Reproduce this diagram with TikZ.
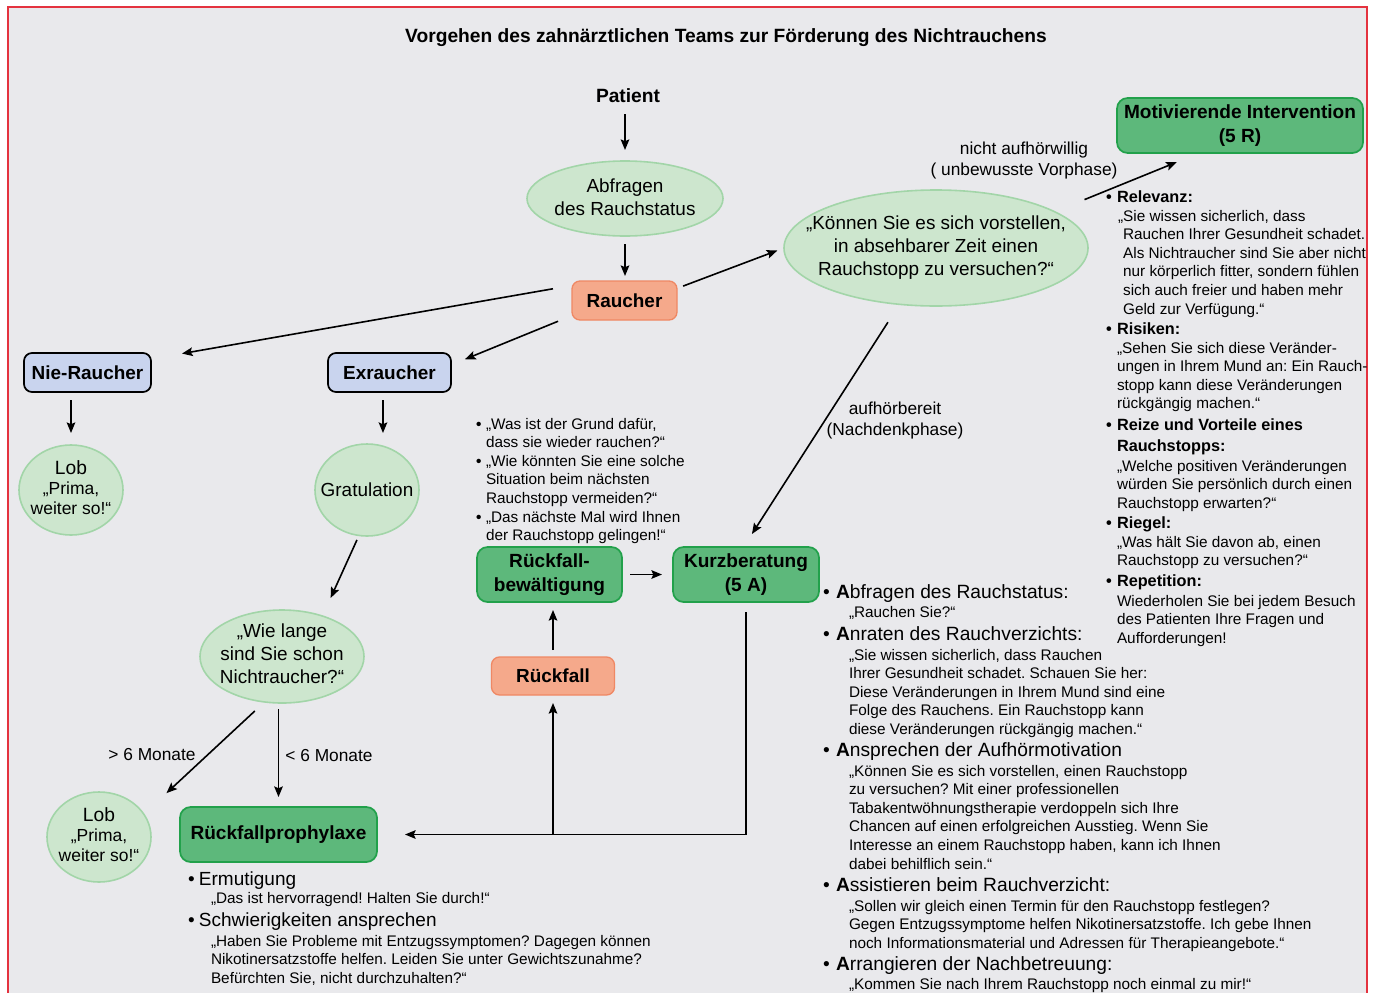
\documentclass[tikz,border=0pt]{standalone}
\usepackage{fontspec}
\setmainfont{Liberation Sans}
\usetikzlibrary{arrows.meta,shapes.geometric,calc}
\definecolor{bg}{HTML}{E9E9EC}
\definecolor{frame}{HTML}{E4333F}
\definecolor{lgfill}{HTML}{CDE6CE}
\definecolor{lgdraw}{HTML}{A2D5A8}
\definecolor{gfill}{HTML}{5DB87B}
\definecolor{gdraw}{HTML}{22A14B}
\definecolor{sfill}{HTML}{F5A98B}
\definecolor{sdraw}{HTML}{EF8864}
\definecolor{bfill}{HTML}{C9D4EE}
\newcommand\mylines[1]{\begin{tabular}[t]{@{}l@{}}#1\end{tabular}}
\newcommand\bul[1]{\makebox[#1][l]{\textbf{•}}}
\begin{document}
\frenchspacing
\begin{tikzpicture}[x=0.75pt,y=-0.75pt,
  every node/.style={inner sep=0pt, outer sep=0pt},
  conn/.style={line width=1.2pt, draw=black},
  arr/.style={conn, -{Stealth[length=8pt,width=6.5pt,inset=1.5pt]}},
  greenell/.style={ellipse, draw=lgdraw, fill=lgfill, line width=1.2pt},
  elltxt/.style={align=center, font=\fontsize{14.2}{17.25}\selectfont},
  lobtxt/.style={align=center, font=\fontsize{13.1}{15}\selectfont},
  bluebox/.style={rectangle, rounded corners=6pt, draw=black, fill=bfill, line width=1.3pt, font=\bfseries\fontsize{14.2}{17}\selectfont, minimum height=29.25pt},
  greenbox/.style={rectangle, rounded corners=8pt, draw=gdraw, fill=gfill, line width=1.3pt, align=center, font=\bfseries\fontsize{14.3}{17.5}\selectfont, minimum height=41.25pt},
  salmonbox/.style={rectangle, rounded corners=6pt, draw=sdraw, fill=sfill, line width=1pt, font=\bfseries\fontsize{14.2}{17}\selectfont, minimum height=28.5pt},
  bodytxt/.style={anchor=base west, font=\fontsize{11.5}{13.95}\selectfont},
  rhead/.style={anchor=base west, font=\bfseries\fontsize{12.2}{15.75}\selectfont},
  khead/.style={anchor=base west, font=\fontsize{14.4}{16}\selectfont},
  lhead/.style={anchor=base west, font=\fontsize{14.25}{17}\selectfont},
  lbl/.style={font=\fontsize{13}{15.75}\selectfont, align=center}
]
\useasboundingbox (0,0) rectangle (1373,992);
\fill[white] (0,0) rectangle (1373,992);
\fill[bg] (8,7) rectangle (1367,995);
\draw[frame, line width=1.5pt] (8,1000) -- (8,7) -- (1367,7) -- (1367,1000);

% title
\node[font=\bfseries\fontsize{14.4}{17}\selectfont] (title) at (726,38) {Vorgehen des zahnärztlichen Teams zur Förderung des Nichtrauchens};

% nodes
\node[font=\bfseries\fontsize{14.4}{17}\selectfont] (patient) at (628,96) {Patient};
\node[greenell, minimum width=147pt, minimum height=56.25pt] (abfr) at (625,198.5) {};
\node[elltxt] (abfrt) at ([yshift=0.75pt]abfr) {Abfragen\\des Rauchstatus};
\node[salmonbox, minimum width=78.75pt, minimum height=29.25pt] (raucher) at (624.5,300.5) {Raucher};
\node[bluebox, minimum width=95.25pt] (nie) at (87.5,372.5) {Nie-Raucher};
\node[bluebox, minimum width=92.25pt] (ex) at (389.5,372.5) {Exraucher};
\node[greenell, minimum width=78pt, minimum height=67.5pt] (lob1) at (71,490) {};
\node[lobtxt] (lob1t) at ([yshift=2pt]lob1) {{\fontsize{14.4}{15}\selectfont Lob}\\„Prima,\\weiter so!“};
\node[greenell, minimum width=78pt, minimum height=69pt] (grat) at (367,490) {};
\node[elltxt] (gratt) at (grat) {Gratulation};
\node[greenell, minimum width=123pt, minimum height=69.75pt] (wie) at (282,656.5) {};
\node[elltxt] (wiet) at ([yshift=2.25pt]wie) {„Wie lange\\sind Sie schon\\Nichtraucher?“};
\node[greenell, minimum width=78pt, minimum height=67.5pt] (lob2) at (99,837) {};
\node[lobtxt] (lob2t) at ([yshift=2pt]lob2) {{\fontsize{14.4}{15}\selectfont Lob}\\„Prima,\\weiter so!“};
\node[greenbox, minimum width=147.75pt] (prophy) at (278.5,834.5) {Rückfallprophylaxe};
\node[greenell, minimum width=228pt, minimum height=87pt] (koennen) at (936,248) {};
\node[elltxt] (koennent) at (koennen) {„Können Sie es sich vorstellen,\\in absehbarer Zeit einen\\Rauchstopp zu versuchen?“};
\node[greenbox, minimum width=184.5pt] (motiv) at (1240,125.5) {Motivierende Intervention\\(5 R)};
\node[greenbox, minimum width=109.5pt] (kurz) at (746,574.5) {Kurzberatung\\(5 A)};
\node[greenbox, minimum width=108.75pt] (rbew) at (549.5,574.5) {Rückfall-\\bewältigung};
\node[salmonbox, minimum width=92.25pt] (rueck) at (553,676) {Rückfall};

% connector labels
\node[lbl] (nah) at (1024,160.5) {nicht aufhörwillig\\( unbewusste Vorphase)};
\node[lbl] (ahb) at (895,420.5) {aufhörbereit\\(Nachdenkphase)};
\node[lbl] (gt6) at (152,755) {> 6 Monate};
\node[lbl] (lt6) at (329,756) {< 6 Monate};

% connectors
\draw[arr, shorten <=8.25pt, shorten >=8.25pt] (patient.south -| abfr.north) -- (abfr.north);
\draw[arr, shorten <=6pt, shorten >=3.75pt] (abfr.south) -- (abfr.south |- raucher.north);
\draw[arr, shorten <=14.5pt, shorten >=23.6pt] (raucher.164) -- (nie.12.6);
\draw[arr, shorten <=11.3pt, shorten >=11.3pt] (raucher.196.85) -- (ex.7.3);
\draw[arr, shorten <=4.9pt, shorten >=5.3pt] (raucher.13) -- (koennen.west);
\draw[arr, shorten <=24.2pt, shorten >=18.2pt] (koennen.17.1) -- (motiv.214.8);
\draw[arr, shorten <=16pt, shorten >=11.6pt] (koennen.237.6) -- (kurz.95);
\draw[arr, shorten <=6pt, shorten >=8.25pt] (rbew.east) -- (kurz.west);
\draw[arr, shorten <=5.25pt, shorten >=6pt] (rueck.north) -- (rueck.north |- rbew.south);
\coordinate (loopc) at (kurz.south |- prophy.east);
\draw[arr, shorten >=21pt] ([yshift=-7.5pt]kurz.south) -- (loopc) -- (prophy.east);
\draw[arr, shorten >=6pt] (rueck.south |- loopc) -- (rueck.south);
\draw[arr, shorten <=6pt, shorten >=9pt] (lob1.north |- nie.south) -- (lob1.north);
\draw[arr, shorten <=6pt, shorten >=8.25pt] ([xshift=-4.9pt]ex.south) -- ([xshift=-4.9pt]ex.south |- grat.north);
\draw[arr, shorten <=3.7pt, shorten >=14.9pt] (grat.260) -- (wie.45.6);
\draw[arr, shorten <=10pt, shorten >=23.2pt] (wie.249.3) -- (lob2.27.5);
\draw[arr, shorten <=4.5pt, shorten >=7.5pt] (prophy.north |- wie.south) -- (prophy.north);

% right column (5 R)
\node[rhead] (relh) at (1106,202.5) {\bul{8.25pt}Relevanz:};
\node[bodytxt] (relt) at (1118,221) {\mylines{„Sie wissen sicherlich, dass\\\phantom{„}Rauchen Ihrer Gesundheit schadet.\\\phantom{„}Als Nichtraucher sind Sie aber nicht\\\phantom{„}nur körperlich fitter, sondern fühlen\\\phantom{„}sich auch freier und haben mehr\\\phantom{„}Geld zur Verfügung.“}};
\node[rhead] (rish) at (1106,334.5) {\bul{8.25pt}Risiken:};
\node[bodytxt] (rist) at (1117,353) {\mylines{„Sehen Sie sich diese Veränder-\\ungen in Ihrem Mund an: Ein Rauch-\\stopp kann diese Veränderungen\\rückgängig machen.“}};
\node[rhead] (reih) at (1106,430.5) {\mylines{\bul{8.25pt}Reize und Vorteile eines\\\hspace{8.25pt}Rauchstopps:}};
\node[bodytxt] (reit) at (1117,471) {\mylines{„Welche positiven Veränderungen\\würden Sie persönlich durch einen\\Rauchstopp erwarten?“}};
\node[rhead] (rieh) at (1106,528.5) {\bul{8.25pt}Riegel:};
\node[bodytxt] (riet) at (1117,547) {\mylines{„Was hält Sie davon ab, einen\\Rauchstopp zu versuchen?“}};
\node[rhead] (reph) at (1106,586.5) {\bul{8.25pt}Repetition:};
\node[bodytxt] (rept) at (1117,606) {\mylines{Wiederholen Sie bei jedem Besuch\\des Patienten Ihre Fragen und\\Aufforderungen!}};

% relapse questions
\node[bodytxt] (rql) at (476,429) {\mylines{\bul{7.5pt}„Was ist der Grund dafür,\\\hspace{7.5pt}dass sie wieder rauchen?“\\\bul{7.5pt}„Wie könnten Sie eine solche\\\hspace{7.5pt}Situation beim nächsten\\\hspace{7.5pt}Rauchstopp vermeiden?“\\\bul{7.5pt}„Das nächste Mal wird Ihnen\\\hspace{7.5pt}der Rauchstopp gelingen!“}};

% 5 A list
\node[khead] (k1h) at (823,598.5) {\makebox[9.75pt][l]{•}\textbf{A}bfragen des Rauchstatus:};
\node[bodytxt] (k1t) at (849,617) {„Rauchen Sie?“};
\node[khead] (k2h) at (823,640.5) {\makebox[9.75pt][l]{•}\textbf{A}nraten des Rauchverzichts:};
\node[bodytxt] (k2t) at (849,660) {\mylines{„Sie wissen sicherlich, dass Rauchen\\Ihrer Gesundheit schadet. Schauen Sie her:\\Diese Veränderungen in Ihrem Mund sind eine\\Folge des Rauchens. Ein Rauchstopp kann\\diese Veränderungen rückgängig machen.“}};
\node[khead] (k3h) at (823,756.5) {\makebox[9.75pt][l]{•}\textbf{A}nsprechen der Aufhörmotivation};
\node[bodytxt] (k3t) at (849,776) {\mylines{„Können Sie es sich vorstellen, einen Rauchstopp\\zu versuchen? Mit einer professionellen\\Tabakentwöhnungstherapie verdoppeln sich Ihre\\Chancen auf einen erfolgreichen Ausstieg. Wenn Sie\\Interesse an einem Rauchstopp haben, kann ich Ihnen\\dabei behilflich sein.“}};
\node[khead] (k4h) at (823,891.5) {\makebox[9.75pt][l]{•}\textbf{A}ssistieren beim Rauchverzicht:};
\node[bodytxt] (k4t) at (849,911) {\mylines{„Sollen wir gleich einen Termin für den Rauchstopp festlegen?\\Gegen Entzugssymptome helfen Nikotinersatzstoffe. Ich gebe Ihnen\\noch Informationsmaterial und Adressen für Therapieangebote.“}};
\node[khead] (k5h) at (823,970.5) {\makebox[9.75pt][l]{•}\textbf{A}rrangieren der Nachbetreuung:};
\node[bodytxt] (k5t) at (849,989) {„Kommen Sie nach Ihrem Rauchstopp noch einmal zu mir!“};

% relapse prophylaxis list
\node[lhead] (l1h) at (188,885.5) {\makebox[8.25pt][l]{•}Ermutigung};
\node[bodytxt] (l1t) at (211,903) {„Das ist hervorragend! Halten Sie durch!“};
\node[lhead] (l2h) at (188,926.5) {\makebox[8.25pt][l]{•}Schwierigkeiten ansprechen};
\node[bodytxt] (l2t) at (211,946) {\mylines{„Haben Sie Probleme mit Entzugssymptomen? Dagegen können\\Nikotinersatzstoffe helfen. Leiden Sie unter Gewichtszunahme?\\Befürchten Sie, nicht durchzuhalten?“}};
\end{tikzpicture}
\end{document}
